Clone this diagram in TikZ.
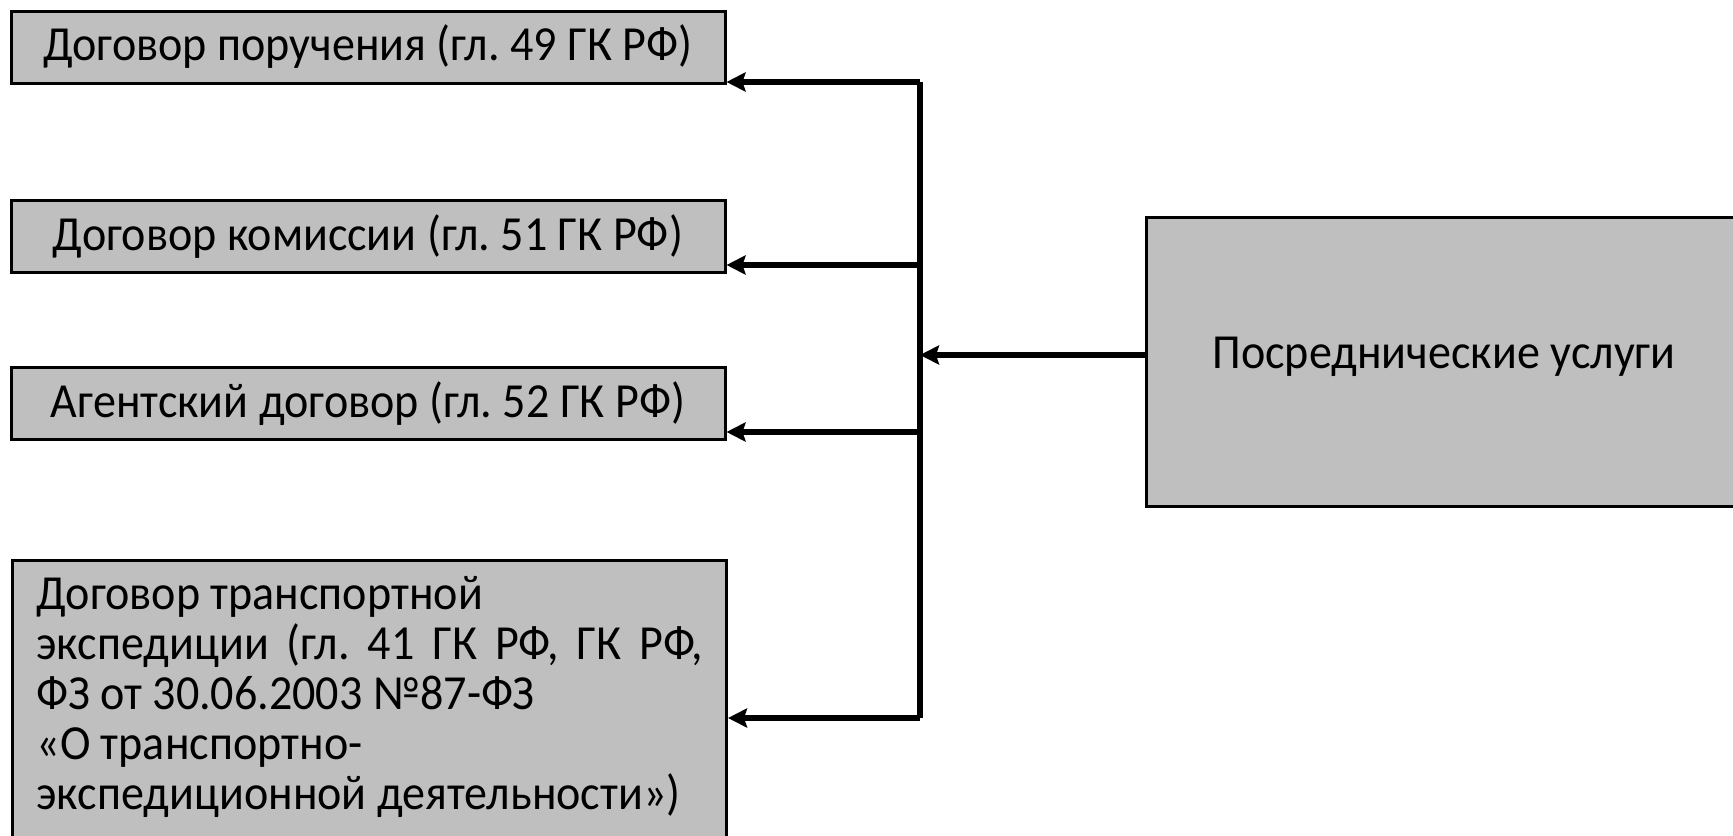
\documentclass[tikz,border=0pt]{standalone}
\usepackage{fontspec}
\setmainfont[FakeStretch=0.94]{Carlito}
\usetikzlibrary{arrows.meta,positioning,calc}
\definecolor{boxgray}{RGB}{191,191,191}
\definecolor{ink}{RGB}{0,0,0}

\tikzset{
  contract/.style={draw=ink,line width=1.5pt,fill=boxgray,
    minimum width=357pt,minimum height=36pt,inner sep=0pt,
    font=\fontsize{24.5}{25}\selectfont},
  link/.style={draw=ink,line width=2.7pt,
    -{Stealth[length=9.5pt,width=9.5pt,inset=1.5pt]}},
}

\begin{document}
\frenchspacing
\begin{tikzpicture}[x=0.5pt,y=-0.5pt]
  \useasboundingbox (0,0) rectangle (1733,835);
  \clip (0,0) rectangle (1733,835);

  % contract boxes on the left
  \node[contract] (assign) at (368,47) {Договор поручения (гл.~49 ГК РФ)};
  \node[contract] (commis) at (368,236.5) {Договор комиссии (гл.~51 ГК РФ)};
  \node[contract] (agency) at (368,403.5) {Агентский договор (гл.~52 ГК РФ)};
  \node[contract,anchor=north west,inner xsep=8pt,inner ysep=8pt,
    align=left] (forward) at (11,559) {%
    \parbox[t][150pt][t]{333pt}{%
      Договор транспортной\\
      \makebox[333pt][s]{экспедиции (гл. 41 ГК РФ, ГК РФ,}\\
      ФЗ от 30.06.2003 №87-ФЗ\\
      «О транспортно-\\
      экспедиционной деятельности»)}};

  % the service box
  \node[contract,minimum width=298pt,minimum height=144.5pt,text depth=9pt]
    (service) at (1444,361.5) {Посреднические услуги};

  % connectors
  \coordinate (hub) at (920,355);
  \coordinate (j1) at (920,82);
  \coordinate (j2) at (920,265);
  \coordinate (j3) at (920,432);
  \coordinate (j4) at (920,718);
  \draw[ink,line width=2.7pt] (j1) -- (j4);
  \draw[link] (service.west |- hub) -- (hub);
  \foreach \j/\b in {j1/assign,j2/commis,j3/agency,j4/forward}
    \draw[link] (\j) -- (\j -| \b.east);
\end{tikzpicture}
\end{document}
